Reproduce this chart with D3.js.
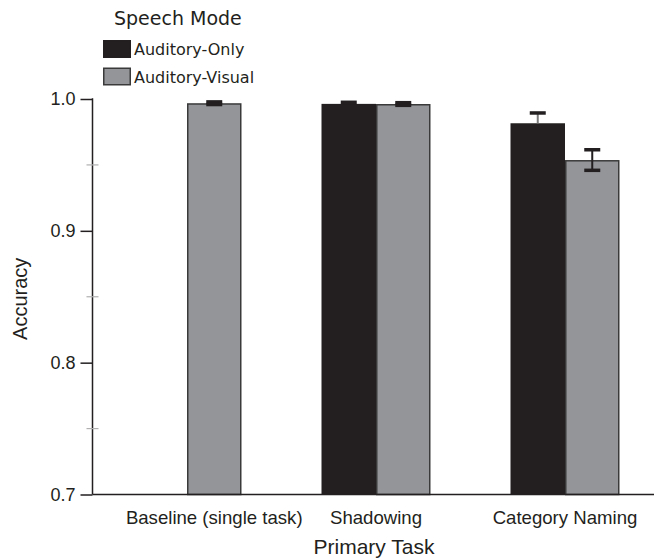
<!DOCTYPE html>
<html>
<head>
<meta charset="utf-8">
<script src="https://cdn.jsdelivr.net/npm/d3@7/dist/d3.min.js"></script>
<style>
html,body{margin:0;padding:0;background:#fff;}
svg{display:block;}
</style>
</head>
<body>
<script>
const categories = ["Baseline (single task)", "Shadowing", "Category Naming"];
const seriesNames = ["Auditory-Only", "Auditory-Visual"];
const auditoryOnly = [null, 0.9963, 0.9816];
const auditoryOnlyErr = [null, 0.0012, 0.0078];
const auditoryVisual = [0.9968, 0.9962, 0.9537];
const auditoryVisualErr = [0.0010, 0.0010, 0.0078];
const yTicks = [0.7, 0.8, 0.9, 1.0];
const yMinorTicks = [0.75, 0.85, 0.95];
const legendTitle = "Speech Mode";
const xTitle = "Primary Task";
const yTitle = "Accuracy";

const W = 654, H = 558;
const colors = ["#231f20", "#939598"];
const stemColors = ["#7a7a7a", "#231f20"];
const values = [auditoryOnly, auditoryVisual];
const errs = [auditoryOnlyErr, auditoryVisualErr];

const svg = d3.select("body").append("svg").attr("width", W).attr("height", H);

const axisLeft = 92.5, axisBottom = 494.5;
const y = d3.scaleLinear().domain([0.7, 1.0]).range([axisBottom, 99]);
const x0 = d3.scaleBand().domain(categories).range([axisLeft, axisLeft + 567]).padding(0);
const barW = 54.5;
const x1 = d3.scaleBand().domain(seriesNames)
  .range([x0.bandwidth() / 2 - barW, x0.bandwidth() / 2 + barW]).padding(0);

// bars
const data = [];
categories.forEach((c, i) => {
  seriesNames.forEach((s, j) => {
    if (values[j][i] != null) data.push({c, s, j, v: values[j][i], e: errs[j][i]});
  });
});

const g = svg.append("g");
g.selectAll("rect.bar").data(data).enter().append("rect")
  .attr("class", "bar")
  .attr("x", d => x0(d.c) + x1(d.s) + (d.j === 1 ? 0.75 : 0))
  .attr("y", d => y(d.v) + (d.j === 1 ? 0.75 : 0))
  .attr("width", d => x1.bandwidth() - (d.j === 1 ? 1.5 : 0))
  .attr("height", d => axisBottom - y(d.v) - (d.j === 1 ? 0.75 : 0))
  .attr("fill", d => colors[d.j])
  .attr("stroke", d => d.j === 1 ? "#3a3a3a" : "none")
  .attr("stroke-width", 1.5);

// error bars
const capW = 16, capH = 3.5;
data.forEach(d => {
  const cx = x0(d.c) + x1(d.s) + x1.bandwidth() / 2;
  const yt = y(d.v + d.e), yb = y(d.v - d.e);
  g.append("line").attr("x1", cx).attr("x2", cx)
    .attr("y1", yt).attr("y2", d.j === 0 ? y(d.v) : yb)
    .attr("stroke", stemColors[d.j]).attr("stroke-width", 2);
  g.append("rect").attr("x", cx - capW / 2).attr("y", yt - capH / 2)
    .attr("width", capW).attr("height", capH).attr("fill", "#231f20");
  if (d.j === 1) {
    g.append("rect").attr("x", cx - capW / 2).attr("y", yb - capH / 2)
      .attr("width", capW).attr("height", capH).attr("fill", "#231f20");
  }
});

// y axis
const yAxis = d3.axisLeft(y).tickValues(yTicks).tickFormat(d3.format(".1f")).tickSize(12).tickPadding(5);
const ya = svg.append("g").attr("transform", `translate(${axisLeft},0)`).call(yAxis);
ya.select(".domain").remove();
ya.selectAll(".tick line").attr("stroke", "#231f20").attr("stroke-width", 1.5);
ya.selectAll(".tick text").attr("font-family", "Liberation Sans, Arial, sans-serif")
  .attr("font-size", 18).attr("fill", "#231f20");
svg.append("line").attr("x1", axisLeft).attr("x2", axisLeft)
  .attr("y1", y(1.0) - 0.75).attr("y2", axisBottom)
  .attr("stroke", "#231f20").attr("stroke-width", 1.5);
svg.selectAll("line.minor").data(yMinorTicks).enter().append("line")
  .attr("class", "minor")
  .attr("x1", axisLeft - 6).attr("x2", axisLeft + 6)
  .attr("y1", d => y(d)).attr("y2", d => y(d))
  .attr("stroke", "#b0b0b0").attr("stroke-width", 1.2);

// x axis line
svg.append("line").attr("x1", axisLeft).attr("x2", W)
  .attr("y1", axisBottom).attr("y2", axisBottom)
  .attr("stroke", "#231f20").attr("stroke-width", 1.5);

// x labels centered over visible bars
categories.forEach((c, i) => {
  const cs = [];
  seriesNames.forEach((s, j) => { if (values[j][i] != null) cs.push(x0(c) + x1(s) + x1.bandwidth() / 2); });
  const cx = d3.mean(cs);
  svg.append("text").attr("x", cx).attr("y", 524)
    .attr("text-anchor", "middle")
    .attr("font-family", "Liberation Sans, Arial, sans-serif")
    .attr("font-size", 18.6).attr("fill", "#231f20").text(c);
});

svg.append("text").attr("x", 374).attr("y", 554)
  .attr("text-anchor", "middle")
  .attr("font-family", "Liberation Sans, Arial, sans-serif")
  .attr("font-size", 21).attr("fill", "#231f20").text(xTitle);

svg.append("text").attr("transform", `translate(27,${(y(1.0) + axisBottom) / 2 + 2}) rotate(-90)`)
  .attr("text-anchor", "middle")
  .attr("font-family", "Liberation Sans, Arial, sans-serif")
  .attr("font-size", 20).attr("fill", "#231f20").text(yTitle);

// legend
const lg = svg.append("g");
lg.append("text").attr("x", 114).attr("y", 25)
  .attr("font-family", "DejaVu Sans, sans-serif").attr("font-size", 19)
  .attr("fill", "#231f20").text(legendTitle);
seriesNames.forEach((s, j) => {
  const top = 40 + j * 27.5;
  lg.append("rect").attr("x", 103.75).attr("y", top + 0.75)
    .attr("width", 26.5).attr("height", 16.5)
    .attr("fill", colors[j]).attr("stroke", j === 1 ? "#3a3a3a" : colors[j]).attr("stroke-width", 1.5);
  lg.append("text").attr("x", 134).attr("y", top + 15)
    .attr("font-family", "DejaVu Sans, sans-serif").attr("font-size", 16)
    .attr("fill", "#231f20").text(s);
});
</script>
</body>
</html>
